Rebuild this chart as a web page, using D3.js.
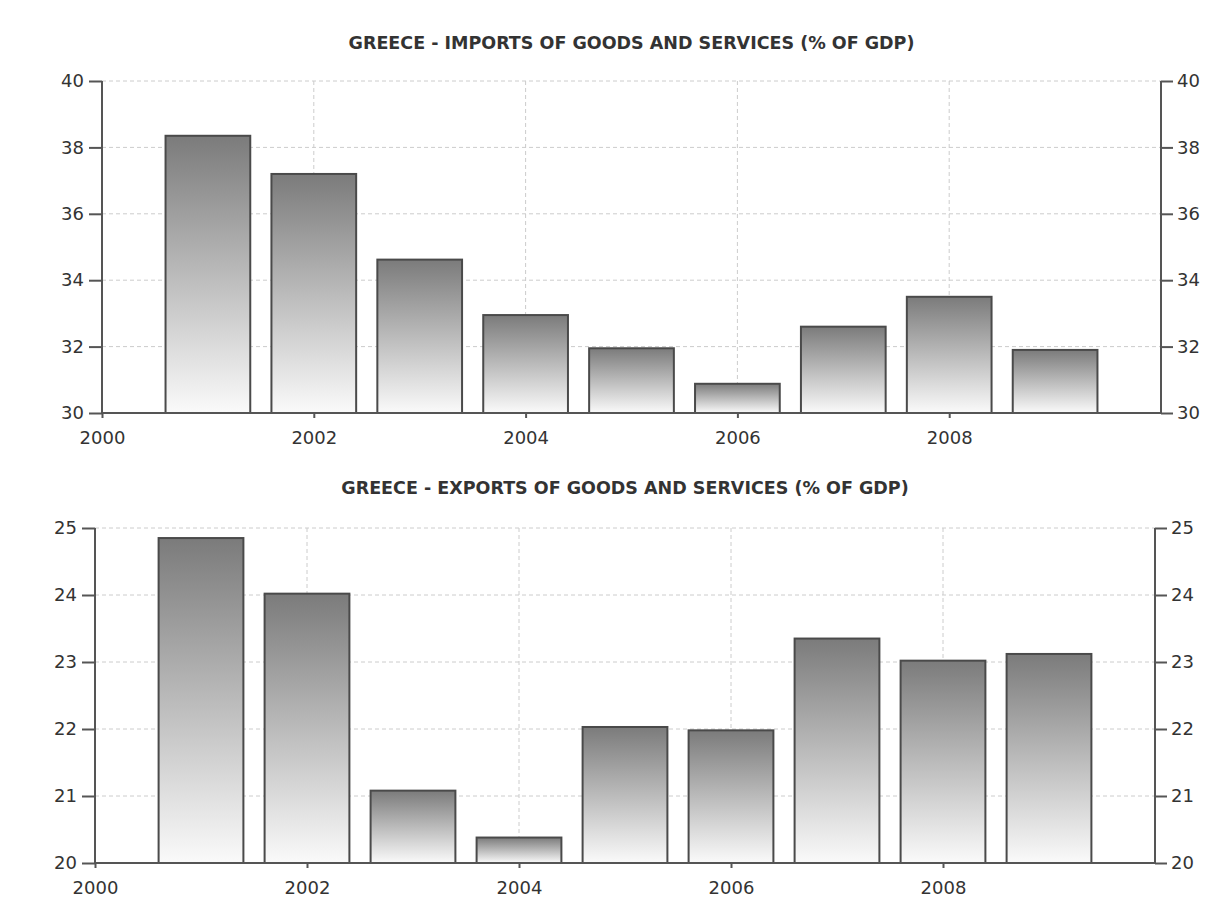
<!DOCTYPE html>
<html>
<head>
<meta charset="utf-8">
<script src="https://cdn.jsdelivr.net/npm/d3@7"></script>
<style>
  body { margin: 0; background: #fff; }
  svg text { font-family: "DejaVu Sans", Tahoma, sans-serif; fill: #333; }
</style>
</head>
<body>
<script>
const years = [2001, 2002, 2003, 2004, 2005, 2006, 2007, 2008, 2009];
const imports = [38.35, 37.2, 34.62, 32.95, 31.95, 30.88, 32.6, 33.5, 31.9];
const exports = [24.85, 24.02, 21.08, 20.38, 22.03, 21.98, 23.35, 23.02, 23.12];
const xTicks = [2000, 2002, 2004, 2006, 2008];
const importTicks = [30, 32, 34, 36, 38, 40];
const exportTicks = [20, 21, 22, 23, 24, 25];

const svg = d3.select("body").append("svg")
  .attr("width", 1231)
  .attr("height", 902);

const defs = svg.append("defs");
const grad = defs.append("linearGradient")
  .attr("id", "barGrad")
  .attr("x1", 0).attr("y1", 0).attr("x2", 0).attr("y2", 1);
grad.append("stop").attr("offset", "0%").attr("stop-color", "#7b7b7b");
grad.append("stop").attr("offset", "100%").attr("stop-color", "#fafafa");

function drawChart(cfg) {
  const g = svg.append("g");
  const x = d3.scaleLinear().domain([2000, 2010]).range([cfg.left, cfg.right]);
  const y = d3.scaleLinear().domain(cfg.domain).range([cfg.bottom, cfg.top]);

  // titre
  g.append("text")
    .attr("x", (cfg.left + cfg.right) / 2)
    .attr("y", cfg.titleY)
    .attr("text-anchor", "middle")
    .style("font-size", "17.5px")
    .style("font-weight", "bold")
    .text(cfg.title);

  // grille
  g.selectAll(".hgrid")
    .data(cfg.ticks)
    .enter()
    .append("line")
    .attr("x1", cfg.left).attr("x2", cfg.right)
    .attr("y1", (d) => y(d)).attr("y2", (d) => y(d))
    .attr("stroke", "#cccccc")
    .attr("stroke-dasharray", "4,3");

  g.selectAll(".vgrid")
    .data(xTicks.filter((d) => d > 2000))
    .enter()
    .append("line")
    .attr("x1", (d) => x(d)).attr("x2", (d) => x(d))
    .attr("y1", cfg.top).attr("y2", cfg.bottom)
    .attr("stroke", "#cccccc")
    .attr("stroke-dasharray", "4,3");

  // barres
  const bw = (x(2001) - x(2000)) * 0.8;
  g.selectAll(".bar")
    .data(years)
    .enter()
    .append("rect")
    .attr("x", (d) => x(d) - bw / 2)
    .attr("width", bw)
    .attr("y", (d, i) => y(cfg.values[i]))
    .attr("height", (d, i) => cfg.bottom - y(cfg.values[i]))
    .attr("fill", "url(#barGrad)")
    .attr("stroke", "#4a4a4a")
    .attr("stroke-width", 2);

  // axes
  const axisLeft = d3.axisLeft(y).tickValues(cfg.ticks).tickSize(13).tickPadding(5).tickFormat(d3.format("d"));
  const axisRight = d3.axisRight(y).tickValues(cfg.ticks).tickSize(12).tickPadding(4).tickFormat(d3.format("d"));
  const axisBottom = d3.axisBottom(x).tickValues(xTicks).tickSize(5).tickPadding(13).tickFormat(d3.format("d"));

  [
    g.append("g").attr("transform", `translate(${cfg.left},0)`).call(axisLeft),
    g.append("g").attr("transform", `translate(${cfg.right},0)`).call(axisRight),
    g.append("g").attr("transform", `translate(0,${cfg.bottom})`).call(axisBottom),
  ].forEach((a) => {
    a.select(".domain").remove();
    a.selectAll("line").attr("stroke", "#555").attr("stroke-width", 2);
    a.selectAll("text").style("font-size", "18px").attr("fill", "#333");
  });

  // lignes d'axes
  g.append("line")
    .attr("x1", cfg.left).attr("x2", cfg.left)
    .attr("y1", cfg.top).attr("y2", cfg.bottom)
    .attr("stroke", "#555").attr("stroke-width", 2);
  g.append("line")
    .attr("x1", cfg.right).attr("x2", cfg.right)
    .attr("y1", cfg.top).attr("y2", cfg.bottom)
    .attr("stroke", "#555").attr("stroke-width", 2);
  g.append("line")
    .attr("x1", cfg.left).attr("x2", cfg.right)
    .attr("y1", cfg.bottom).attr("y2", cfg.bottom)
    .attr("stroke", "#555").attr("stroke-width", 2);
}

drawChart({
  title: "GREECE - IMPORTS OF GOODS AND SERVICES (% OF GDP)",
  titleY: 49,
  left: 102, right: 1161, top: 81, bottom: 413,
  domain: [30, 40], ticks: importTicks, values: imports,
});

drawChart({
  title: "GREECE - EXPORTS OF GOODS AND SERVICES (% OF GDP)",
  titleY: 494,
  left: 95, right: 1155, top: 528, bottom: 863,
  domain: [20, 25], ticks: exportTicks, values: exports,
});
</script>
</body>
</html>
